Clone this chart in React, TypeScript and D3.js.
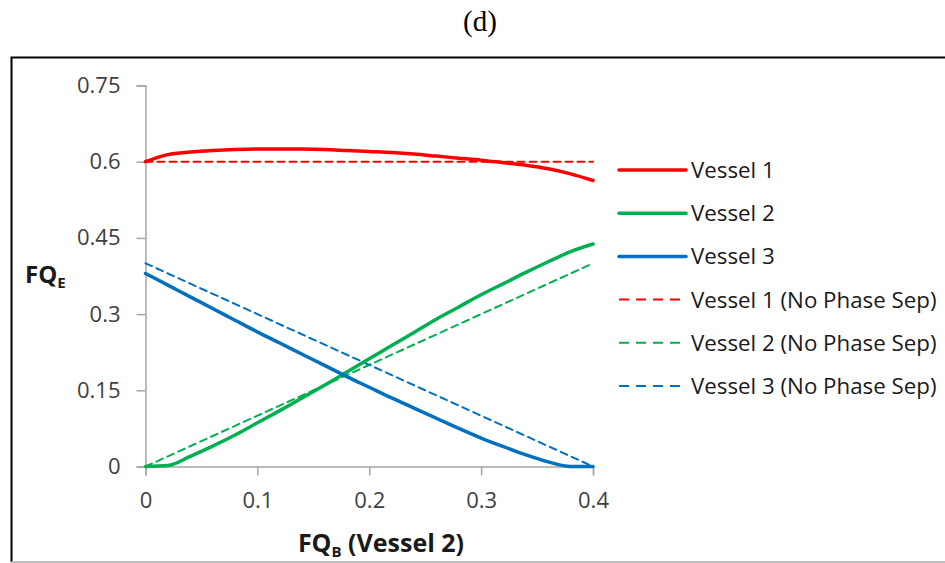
import { useEffect, useRef } from "react";
import * as d3 from "d3";

const xValues = [0, 0.02, 0.04, 0.06, 0.08, 0.1, 0.12, 0.14, 0.16, 0.18, 0.2, 0.22, 0.24, 0.26, 0.28, 0.3, 0.32, 0.34, 0.36, 0.38, 0.4];
const vessel1 = [0.6, 0.614, 0.619, 0.622, 0.624, 0.625, 0.625, 0.625, 0.624, 0.622, 0.62, 0.618, 0.615, 0.611, 0.607, 0.603, 0.598, 0.593, 0.586, 0.576, 0.563];
const vessel2 = [0, 0.002, 0.02, 0.04, 0.062, 0.086, 0.11, 0.135, 0.16, 0.186, 0.212, 0.238, 0.264, 0.29, 0.314, 0.338, 0.36, 0.382, 0.403, 0.423, 0.438];
const vessel3 = [0.38, 0.357, 0.334, 0.311, 0.288, 0.265, 0.243, 0.221, 0.199, 0.177, 0.156, 0.135, 0.115, 0.095, 0.075, 0.056, 0.039, 0.023, 0.009, 0, 0];
const noSepX = [0, 0.4];
const noSep1 = [0.6, 0.6];
const noSep2 = [0, 0.4];
const noSep3 = [0.4, 0];

const xTicks = [0, 0.1, 0.2, 0.3, 0.4];
const yTicks = [0, 0.15, 0.3, 0.45, 0.6, 0.75];

const RED = "#FF0000";
const GREEN = "#00B050";
const BLUE = "#0070C0";

function App() {
  const svgRef = useRef<SVGSVGElement>(null);

  useEffect(() => {
    const width = 945;
    const height = 563;
    const svg = d3.select(svgRef.current).attr("width", width).attr("height", height);
    svg.selectAll("*").remove();

    const font = "'Open Sans', Carlito, sans-serif";

    const x = d3.scaleLinear().domain([0, 0.4]).range([145.5, 593]);
    const y = d3.scaleLinear().domain([0, 0.75]).range([466.5, 85.5]);

    // title
    svg
      .append("text")
      .attr("x", 480)
      .attr("y", 31)
      .attr("text-anchor", "middle")
      .style("font-family", "'Liberation Serif', 'Times New Roman', serif")
      .style("font-size", "29px")
      .text("(d)");

    // frame
    svg
      .append("path")
      .attr("d", "M11.5,562 L11.5,57.5 L950,57.5")
      .attr("fill", "none")
      .attr("stroke", "#000")
      .attr("stroke-width", 2);
    svg
      .append("line")
      .attr("x1", 11)
      .attr("x2", 945)
      .attr("y1", 562)
      .attr("y2", 562)
      .attr("stroke", "#aaa")
      .attr("stroke-width", 1.5);

    // y axis
    const yAxis = svg
      .append("g")
      .attr("transform", `translate(${x(0)},0)`)
      .call(
        d3
          .axisLeft(y)
          .tickValues(yTicks)
          .tickSize(9)
          .tickPadding(16)
          .tickFormat((d) => String(d))
      );
    yAxis.select(".domain").attr("stroke", "#a6a6a6").attr("stroke-width", 1.5);
    yAxis.selectAll(".tick line").attr("stroke", "#a6a6a6").attr("stroke-width", 1.5);
    yAxis
      .selectAll(".tick text")
      .style("font-family", font)
      .style("font-size", "22px")
      .attr("fill", "#404040");

    // x axis
    const xAxis = svg
      .append("g")
      .attr("transform", `translate(0,${y(0)})`)
      .call(
        d3
          .axisBottom(x)
          .tickValues(xTicks)
          .tickSize(9)
          .tickPadding(17)
          .tickFormat((d) => String(d))
      );
    xAxis.select(".domain").attr("stroke", "#a6a6a6").attr("stroke-width", 1.5);
    xAxis.selectAll(".tick line").attr("stroke", "#a6a6a6").attr("stroke-width", 1.5);
    xAxis
      .selectAll(".tick text")
      .style("font-family", font)
      .style("font-size", "22px")
      .attr("fill", "#404040");

    // axis titles
    const yTitle = svg
      .append("text")
      .attr("x", 25)
      .attr("y", 283)
      .style("font-family", font)
      .style("font-weight", "bold")
      .style("font-size", "24px")
      .attr("fill", "#1a1a1a");
    yTitle.append("tspan").text("FQ");
    yTitle.append("tspan").attr("dy", 5).style("font-size", "15px").text("E");

    const xTitle = svg
      .append("text")
      .attr("x", 381)
      .attr("y", 552)
      .attr("text-anchor", "middle")
      .style("font-family", font)
      .style("font-weight", "bold")
      .style("font-size", "25px")
      .attr("fill", "#1a1a1a");
    xTitle.append("tspan").text("FQ");
    xTitle.append("tspan").attr("dy", 5).style("font-size", "15px").text("B");
    xTitle.append("tspan").attr("dy", -5).text(" (Vessel 2)");

    const series = [
      { name: "Vessel 1", xs: xValues, ys: vessel1, color: RED, dashed: false },
      { name: "Vessel 2", xs: xValues, ys: vessel2, color: GREEN, dashed: false },
      { name: "Vessel 3", xs: xValues, ys: vessel3, color: BLUE, dashed: false },
      { name: "Vessel 1 (No Phase Sep)", xs: noSepX, ys: noSep1, color: RED, dashed: true },
      { name: "Vessel 2 (No Phase Sep)", xs: noSepX, ys: noSep2, color: GREEN, dashed: true },
      { name: "Vessel 3 (No Phase Sep)", xs: noSepX, ys: noSep3, color: BLUE, dashed: true },
    ];

    const line = d3
      .line<[number, number]>()
      .x((d) => x(d[0]))
      .y((d) => y(d[1]))
      .curve(d3.curveMonotoneX);

    // dashed first, solid on top
    [...series.filter((s) => s.dashed), ...series.filter((s) => !s.dashed)].forEach((s) => {
      svg
        .append("path")
        .datum(s.xs.map((v, i) => [v, s.ys[i]] as [number, number]))
        .attr("d", line)
        .attr("fill", "none")
        .attr("stroke", s.color)
        .attr("stroke-width", s.dashed ? 2 : 3.5)
        .attr("stroke-dasharray", s.dashed ? "7,5" : null)
        .attr("stroke-linecap", "round");
    });

    // legend
    const legend = svg.append("g").attr("transform", "translate(619,170)");
    series.forEach((s, i) => {
      const g = legend.append("g").attr("transform", `translate(0,${i * 43.2})`);
      g.append("line")
        .attr("x1", 0)
        .attr("x2", s.dashed ? 62 : 67)
        .attr("y1", 0)
        .attr("y2", 0)
        .attr("stroke", s.color)
        .attr("stroke-width", s.dashed ? 2 : 3.5)
        .attr("stroke-dasharray", s.dashed ? "10,7" : null)
        .attr("stroke-linecap", s.dashed ? "butt" : "round");
      g.append("text")
        .attr("x", 72)
        .attr("y", 0)
        .attr("dy", "0.36em")
        .style("font-family", font)
        .style("font-size", "22.3px")
        .attr("fill", "#1a1a1a")
        .text(s.name);
    });
  }, []);

  return (
    <div style={{ position: "absolute", left: 0, top: 0, width: 945, height: 563, background: "#fff" }}>
      <svg ref={svgRef}></svg>
    </div>
  );
}

export default App;
